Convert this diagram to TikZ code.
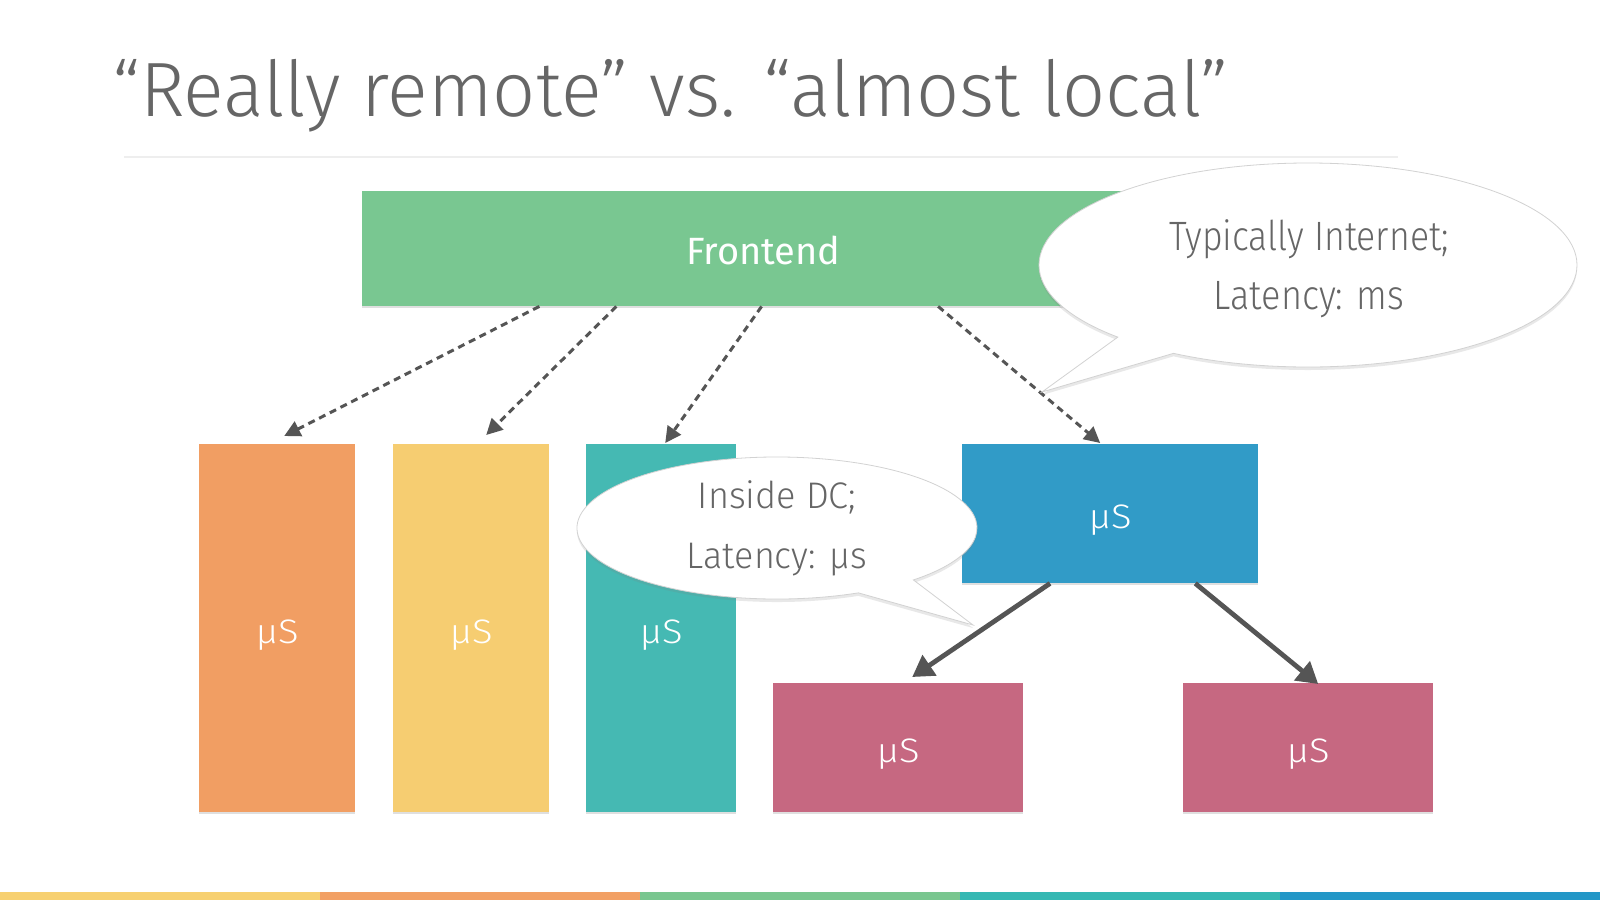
\documentclass[tikz,border=0pt]{standalone}
\usepackage{fontspec}
\setmainfont{Fira Sans}[UprightFont={* Light}]
\newfontfamily\firareg{Fira Sans}
\usetikzlibrary{arrows.meta,calc,shadows}
\definecolor{titlegray}{HTML}{666666}
\definecolor{sepgray}{HTML}{EEEEEE}
\definecolor{arrgray}{HTML}{555555}
\definecolor{bubline}{HTML}{D2D2D2}
\definecolor{cOrange}{HTML}{F19E63}
\definecolor{cYellow}{HTML}{F6CD71}
\definecolor{cTeal}{HTML}{45B9B3}
\definecolor{cBlue}{HTML}{319BC7}
\definecolor{cPink}{HTML}{C66881}
\definecolor{cGreen}{HTML}{79C791}
\definecolor{sYellow}{HTML}{F7D070}
\definecolor{sOrange}{HTML}{F2A064}
\definecolor{sGreen}{HTML}{79C68F}
\definecolor{sTeal}{HTML}{35B8B3}
\definecolor{sBlue}{HTML}{2397C7}
\newcommand{\musvc}{\scalebox{1.12}[1]{µS}}
\tikzset{
  boxnode/.style={rectangle, draw=none, inner sep=0pt, anchor=north west, text=white,
    font=\fontsize{34}{34}\selectfont, text height=30pt, text depth=0pt,
    drop shadow={opacity=0.25, shadow xshift=-0.6pt, shadow yshift=-1.6pt}},
  dasharrow/.style={draw=arrgray, line width=3pt, dash pattern=on 7pt off 5pt,
    -{Triangle[length=16pt,width=16pt]}},
  solidarrow/.style={draw=arrgray, line width=4.8pt, -{Triangle[length=21pt,width=24pt]}},
  bubble/.style={fill=white, draw=bubline, line width=0.8pt, line join=miter,
    drop shadow={opacity=0.18, shadow xshift=0pt, shadow yshift=-3pt}},
  btext/.style={anchor=base, inner sep=0pt, text=titlegray},
}
\begin{document}
\begin{tikzpicture}[x=1pt,y=-1pt]
\useasboundingbox (0,0) rectangle (1600,900);
\fill[white] (0,0) rectangle (1600,900);

% title and separator
\node[anchor=base west, inner sep=0pt, text=titlegray, font=\fontsize{77}{77}\selectfont] (title) at (112,116) {\scalebox{0.982}[1]{“Really remote” vs. “almost local”}};
\draw[sepgray, line width=1.5pt] (124,157) -- (1398,157);

% boxes
\node[boxnode, fill=cGreen, minimum width=802pt, minimum height=115pt, font=\firareg\fontsize{38}{38}\selectfont, text height=31pt] (fe) at (362,191) {Frontend};
\node[boxnode, fill=cOrange, minimum width=156pt, minimum height=368pt] (ms1) at (199,444) {\musvc};
\node[boxnode, fill=cYellow, minimum width=156pt, minimum height=368pt] (ms2) at (393,444) {\musvc};
\node[boxnode, fill=cTeal, minimum width=150pt, minimum height=368pt] (ms3) at (586,444) {\musvc};
\node[boxnode, fill=cBlue, minimum width=296pt, minimum height=139pt] (ms4) at (962,444) {\musvc};
\node[boxnode, fill=cPink, minimum width=250pt, minimum height=129pt] (ms5) at (773,683) {\musvc};
\node[boxnode, fill=cPink, minimum width=250pt, minimum height=129pt] (ms6) at (1183,683) {\musvc};

% dashed arrows from frontend
\draw[dasharrow] ($(fe.south west)!0.221!(fe.south east)$) -- ($(ms1.north)+(7,-8)$);
\draw[dasharrow] ($(fe.south west)!0.317!(fe.south east)$) -- ($(ms2.north)+(15,-9)$);
\draw[dasharrow] ($(fe.south west)!0.498!(fe.south east)$) -- ($(ms3.north)+(4,-1)$);
\draw[dasharrow] ($(fe.south west)!0.718!(fe.south east)$) -- ($(ms4.north)+(-10,-1)$);

% bubble 1
\path[bubble] (1308,265) ++(135:269 and 102)
  arc[start angle=135, end angle=480, x radius=269, y radius=102]
  -- (1042,392) -- cycle;
\node[btext, font=\fontsize{41}{41}\selectfont] (b1a) at (1309,250) {\scalebox{0.87}[1]{Typically Internet;}};
\node[btext, font=\fontsize{41}{41}\selectfont] (b1b) at (1309,309) {\scalebox{0.88}[1]{Latency: ms}};

% bubble 2
\path[bubble] (777,528) ++(66:200 and 71)
  arc[start angle=66, end angle=407, x radius=200, y radius=71]
  -- (973,625) -- cycle;
\node[btext, font=\fontsize{37}{37}\selectfont] (b2a) at (777,508) {\scalebox{0.975}[1]{Inside DC;}};
\node[btext, font=\fontsize{37}{37}\selectfont] (b2b) at (777,568) {\scalebox{0.97}[1]{Latency: µs}};

% solid arrows from blue service
\draw[solidarrow] ($(ms4.south west)!0.297!(ms4.south east)$) -- ($(ms5.north)+(14,-6)$);
\draw[solidarrow] ($(ms4.south west)!0.787!(ms4.south east)$) -- ($(ms6.north)+(10,1)$);

% bottom stripe
\fill[sYellow] (0,892) rectangle (320,900);
\fill[sOrange] (320,892) rectangle (640,900);
\fill[sGreen] (640,892) rectangle (960,900);
\fill[sTeal] (960,892) rectangle (1280,900);
\fill[sBlue] (1280,892) rectangle (1600,900);
\end{tikzpicture}
\end{document}
